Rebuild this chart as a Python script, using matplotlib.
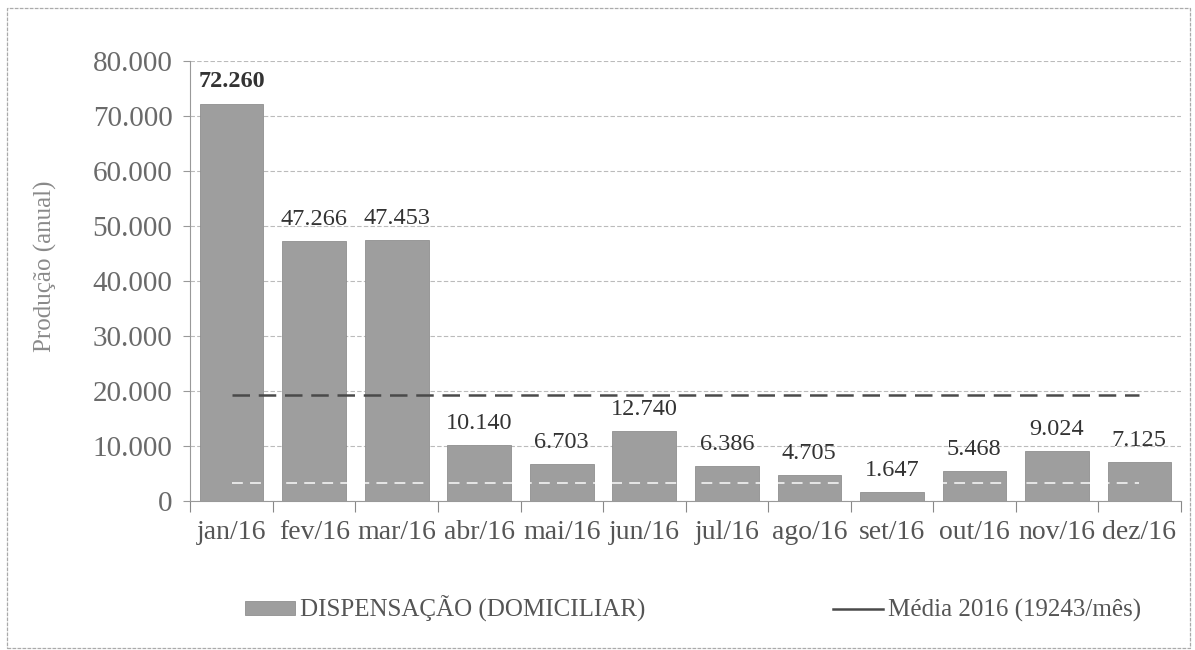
import numpy as np
import matplotlib
matplotlib.use("Agg")
import matplotlib.pyplot as plt
from matplotlib.lines import Line2D
from matplotlib.patches import Patch, Rectangle

# monthly production, 2016
MONTHS = ["jan/16", "fev/16", "mar/16", "abr/16", "mai/16", "jun/16",
          "jul/16", "ago/16", "set/16", "out/16", "nov/16", "dez/16"]
PRODUCTION = [72260, 47266, 47453, 10140, 6703, 12740,
              6386, 4705, 1647, 5468, 9024, 7125]
VALUE_LABELS = ["72.260", "47.266", "47.453", "10.140", "6.703", "12.740",
                "6.386", "4.705", "1.647", "5.468", "9.024", "7.125"]

# yearly average line
AVERAGE = 19243
# faint light line visible across the bars in the scan
FAINT_LINE = 3200

Y_TICKS = [0, 10000, 20000, 30000, 40000, 50000, 60000, 70000, 80000]
Y_TICK_LABELS = ["0", "10.000", "20.000", "30.000", "40.000", "50.000",
                 "60.000", "70.000", "80.000"]

SERIES_LABEL = "DISPENSAÇÃO (DOMICILIAR)"
AVERAGE_LABEL = "Média 2016 (19243/mês)"
Y_LABEL = "Produção (anual)"

SERIF = ["Liberation Serif", "DejaVu Serif"]
plt.rcParams["font.family"] = SERIF

BAR_COLOR = "#9e9e9e"
TEXT_GREY = "#6a6a6a"
GRID_GREY = "#bbbbbb"

fig = plt.figure(figsize=(11.95, 6.5), dpi=100)
ax = fig.add_axes([0.1594, 0.2292, 0.8285, 0.677])

x = np.arange(len(MONTHS))
ax.bar(x, PRODUCTION, width=0.77, color=BAR_COLOR, edgecolor="#8f8f8f",
       linewidth=0.6, zorder=2)

# faint white dashes over the bars
ax.plot(x, [FAINT_LINE] * len(x), color="white", lw=1.3,
        ls=(0, (6, 4)), alpha=0.8, zorder=3)

# average line
ax.plot(x, [AVERAGE] * len(x), color="#4a4a4a", lw=1.8,
        ls=(0, (7, 3.5)), zorder=3)

for i, (val, lab) in enumerate(zip(PRODUCTION, VALUE_LABELS)):
    ax.annotate(lab, (i, val), xytext=(0, 8), textcoords="offset points",
                ha="center", va="bottom", fontsize=17.5, color="#333333",
                fontweight="bold" if i == 0 else "normal", zorder=4)

ax.set_xlim(-0.5, len(MONTHS) - 0.5)
ax.set_ylim(0, 80000)
ax.set_yticks(Y_TICKS)
ax.set_yticklabels(Y_TICK_LABELS, fontsize=21, color=TEXT_GREY)
ax.set_xticks(x)
ax.set_xticklabels(MONTHS, fontsize=20, color="#555555")
ax.set_xticks(np.arange(-0.5, len(MONTHS)), minor=True)
ax.tick_params(axis="x", which="major", length=0, pad=14)
ax.tick_params(axis="x", which="minor", length=8, width=0.8, color="#888888")
ax.tick_params(axis="y", length=5, width=0.8, color="#999999", pad=8)

ax.grid(axis="y", color=GRID_GREY, lw=0.8, ls=(0, (4, 2)), zorder=0)
for side in ["top", "right"]:
    ax.spines[side].set_visible(False)
ax.spines["left"].set_color("#999999")
ax.spines["left"].set_linestyle((0, (3, 1)))
ax.spines["left"].set_linewidth(0.8)
ax.spines["bottom"].set_color("#999999")
ax.spines["bottom"].set_linewidth(0.8)

fig.text(0.038, 0.59, Y_LABEL, rotation=90, ha="center", va="center",
         fontsize=18, color="#8a8a8a", family=SERIF)

handles = [Patch(facecolor=BAR_COLOR, edgecolor="#8f8f8f", lw=0.6),
           Line2D([], [], color="#4a4a4a", lw=1.8)]
fig.legend(handles, [SERIES_LABEL, AVERAGE_LABEL], loc="center",
           bbox_to_anchor=(0.58, 0.063), ncol=2, frameon=False,
           prop={"family": SERIF, "size": 18}, handlelength=2.0,
           handleheight=0.5, handletextpad=0.2, columnspacing=7.5,
           labelcolor="#555555")

# scanned page border
fig.patches.append(Rectangle((0.006, 0.003), 0.99, 0.985, transform=fig.transFigure,
                             fill=False, edgecolor="#aaaaaa", lw=0.9,
                             ls=(0, (3, 1))))

fig.savefig("out.png", dpi=100, facecolor="white")
